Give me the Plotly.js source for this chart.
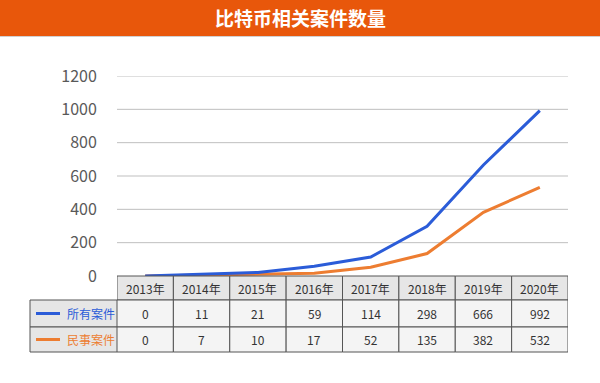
<!DOCTYPE html>
<html>
<head>
<meta charset="utf-8">
<script src="https://cdn.plot.ly/plotly-3.0.1.min.js"></script>
<style>html,body{margin:0;padding:0;background:#fff;}#chart{width:600px;height:383px;}</style>
</head>
<body>
<div id="chart"></div>
<script>
var years = ["2013年","2014年","2015年","2016年","2017年","2018年","2019年","2020年"];
var allCases = [0, 11, 21, 59, 114, 298, 666, 992];
var civilCases = [0, 7, 10, 17, 52, 135, 382, 532];
var seriesNames = ["所有案件", "民事案件"];
var seriesColors = ["#2b5cd8", "#ed7d31"];
var chartTitle = "比特币相关案件数量";

var FONT = "Noto Sans CJK SC, Noto Sans, sans-serif";
var PW = 451, PH = 200, TOP = 76;
function px2p(px){ return (px - 117) / PW; }
function py2p(py){ return (TOP + PH - py) / PH; }

var traces = [
  {x: years, y: civilCases, type: "scatter", mode: "lines", name: seriesNames[1],
   line: {color: seriesColors[1], width: 3}, hoverinfo: "skip"},
  {x: years, y: allCases, type: "scatter", mode: "lines", name: seriesNames[0],
   line: {color: seriesColors[0], width: 3}, hoverinfo: "skip"}
];

var shapes = [];
var annotations = [];
var borderCol = "#555555";

// title bar
shapes.push({type: "rect", xref: "paper", yref: "paper", x0: px2p(0), x1: px2p(600),
  y0: py2p(36), y1: py2p(0), fillcolor: "#e8570b", line: {width: 0}, layer: "above"});
shapes.push({type: "line", xref: "paper", yref: "paper", x0: px2p(0), x1: px2p(600),
  y0: py2p(36.5), y1: py2p(36.5), line: {color: "#d0d0d0", width: 1}});
annotations.push({xref: "paper", yref: "paper", x: px2p(300), y: py2p(18),
  text: "<b>" + chartTitle + "</b>", showarrow: false, xanchor: "center", yanchor: "middle",
  font: {family: FONT, size: 19, color: "#ffffff"}});

var rowsY = [[276, 300], [300, 327], [327, 352]];
var seriesData = [allCases, civilCases];

// header row cells
years.forEach(function(yr, i){
  shapes.push({type: "rect", xref: "x", yref: "paper", x0: i - 0.5, x1: i + 0.5,
    y0: py2p(rowsY[0][1]), y1: py2p(rowsY[0][0]), fillcolor: "#e6e6e6",
    line: {color: borderCol, width: 1}, layer: "above"});
  annotations.push({xref: "x", yref: "paper", x: i, y: py2p((rowsY[0][0] + rowsY[0][1]) / 2),
    text: yr, showarrow: false, xanchor: "center", yanchor: "middle",
    font: {family: FONT, size: 12, color: "#333333"}});
});

// data rows
seriesData.forEach(function(vals, r){
  var y0 = rowsY[r + 1][0], y1 = rowsY[r + 1][1];
  var ym = (y0 + y1) / 2;
  shapes.push({type: "rect", xref: "paper", yref: "paper", x0: px2p(30), x1: px2p(117),
    y0: py2p(y1), y1: py2p(y0), fillcolor: "#e6e6e6",
    line: {color: borderCol, width: 1}, layer: "above"});
  shapes.push({type: "line", xref: "paper", yref: "paper", x0: px2p(36), x1: px2p(60),
    y0: py2p(ym), y1: py2p(ym),
    line: {color: seriesColors[r], width: 3}, layer: "above"});
  annotations.push({xref: "paper", yref: "paper", x: px2p(65), y: py2p(ym),
    text: seriesNames[r], showarrow: false, xanchor: "left", yanchor: "middle",
    font: {family: FONT, size: 12, color: seriesColors[r]}});
  vals.forEach(function(v, i){
    shapes.push({type: "rect", xref: "x", yref: "paper", x0: i - 0.5, x1: i + 0.5,
      y0: py2p(y1), y1: py2p(y0), fillcolor: "#f4f4f4",
      line: {color: borderCol, width: 1}, layer: "above"});
    annotations.push({xref: "x", yref: "paper", x: i, y: py2p(ym),
      text: String(v), showarrow: false, xanchor: "center", yanchor: "middle",
      font: {family: FONT, size: 12, color: "#333333"}});
  });
});

var layout = {
  width: 600, height: 383,
  margin: {l: 117, r: 32, t: TOP, b: 383 - TOP - PH, pad: 0},
  paper_bgcolor: "#ffffff", plot_bgcolor: "#ffffff",
  showlegend: false,
  xaxis: {type: "category", range: [-0.5, 7.5], showgrid: false, showticklabels: false,
    zeroline: false, showline: false, ticks: "", fixedrange: true},
  yaxis: {range: [0, 1200], dtick: 200, tick0: 0, showgrid: false,
    zeroline: false, showline: false, ticks: "outside", ticklen: 16,
    tickcolor: "rgba(0,0,0,0)", tickfont: {family: FONT, size: 16, color: "#595959"},
    fixedrange: true},
  shapes: shapes,
  annotations: annotations
};

// gridlines through the y scale (including the top one at 1200)
var gridVals = [200, 400, 600, 800, 1000, 1200];
gridVals.forEach(function(g){
  layout.shapes.unshift({type: "line", xref: "paper", yref: "y", x0: 0, x1: 1, y0: g, y1: g,
    line: {color: "#bfbfbf", width: 1}, layer: "below"});
});

Plotly.newPlot("chart", traces, layout, {displayModeBar: false, staticPlot: true});
</script>
</body>
</html>
